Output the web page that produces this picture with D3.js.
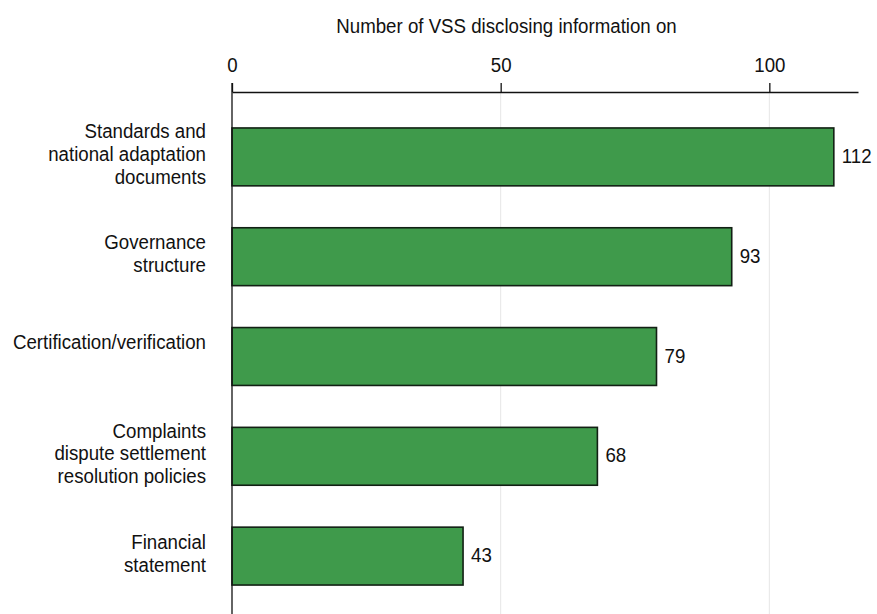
<!DOCTYPE html>
<html>
<head>
<meta charset="utf-8">
<script src="https://cdn.jsdelivr.net/npm/d3@7"></script>
<style>
  body { margin: 0; background: #fff; }
  svg { font-family: "Liberation Sans Narrow", "Liberation Sans", Arial, sans-serif; }
</style>
</head>
<body>
<svg width="877" height="614"></svg>
<script>
const categories = [
  ['Standards and', 'national adaptation', 'documents'],
  ['Governance', 'structure'],
  ['Certification/verification'],
  ['Complaints', 'dispute settlement', 'resolution policies'],
  ['Financial', 'statement']
];
const values = [112, 93, 79, 68, 43];
const tickValues = [0, 50, 100];
const axisTitle = 'Number of VSS disclosing information on';

// narrow look: squeeze the regular sans a bit horizontally
const squeeze = 0.89;
const fontSize = 21;

const svg = d3.select('svg');
const x = d3.scaleLinear().domain([0, 116.5]).range([232, 858]);
const y = d3.scaleBand()
  .domain(d3.range(values.length))
  .range([107, 606])
  .paddingInner(0.42)
  .paddingOuter(0.21);

// grid lines
svg.append('g')
  .selectAll('line')
  .data(tickValues.filter(d => d > 0))
  .enter()
  .append('line')
  .attr('x1', d => x(d)).attr('x2', d => x(d))
  .attr('y1', 92).attr('y2', 614)
  .attr('stroke', '#e6e6e6')
  .attr('stroke-width', 1);

// top axis
const axis = svg.append('g')
  .attr('transform', 'translate(0,92)')
  .call(d3.axisTop(x).tickValues(tickValues).tickSize(9).tickPadding(11).tickSizeOuter(0));
axis.select('.domain').attr('stroke', '#111').attr('stroke-width', 1.3);
axis.selectAll('.tick line').attr('stroke', '#111').attr('stroke-width', 1.3);
axis.selectAll('.tick text')
  .attr('font-size', fontSize)
  .attr('fill', '#111')
  .attr('font-family', null)
  .attr('transform', `scale(${squeeze},1)`);

svg.append('text')
  .attr('transform', `translate(506.5,33) scale(${squeeze},1)`)
  .attr('text-anchor', 'middle')
  .attr('font-size', fontSize)
  .attr('fill', '#111')
  .text(axisTitle);

// bars
svg.append('g')
  .selectAll('rect')
  .data(values)
  .enter()
  .append('rect')
  .attr('x', x(0))
  .attr('y', (d, i) => y(i))
  .attr('width', d => x(d) - x(0))
  .attr('height', y.bandwidth())
  .attr('fill', '#3f9a4b')
  .attr('stroke', '#122014')
  .attr('stroke-width', 1.6);

// value labels
svg.append('g')
  .selectAll('text')
  .data(values)
  .enter()
  .append('text')
  .attr('transform', (d, i) =>
    `translate(${x(d) + 8},${y(i) + y.bandwidth() / 2 + 6}) scale(${squeeze},1)`)
  .attr('font-size', fontSize)
  .attr('fill', '#111')
  .text(d => d);

// category labels (single lines sit in the top slot of a two-line block)
const lineH = 22.8;
svg.append('g')
  .selectAll('text')
  .data(categories)
  .enter()
  .append('text')
  .attr('text-anchor', 'end')
  .attr('font-size', fontSize)
  .attr('fill', '#111')
  .attr('transform', (d, i) =>
    `translate(206,${y(i) + y.bandwidth() / 2 + 4}) scale(${squeeze},1)`)
  .each(function(lines) {
    const n = Math.max(2, lines.length);
    d3.select(this).selectAll('tspan')
      .data(lines)
      .enter()
      .append('tspan')
      .attr('x', 0)
      .attr('y', (d, j) => (j - (n - 1) / 2) * lineH)
      .text(d => d);
  });

// left axis line
svg.append('line')
  .attr('x1', x(0)).attr('x2', x(0))
  .attr('y1', 83).attr('y2', 614)
  .attr('stroke', '#111')
  .attr('stroke-width', 1.3);
</script>
</body>
</html>
